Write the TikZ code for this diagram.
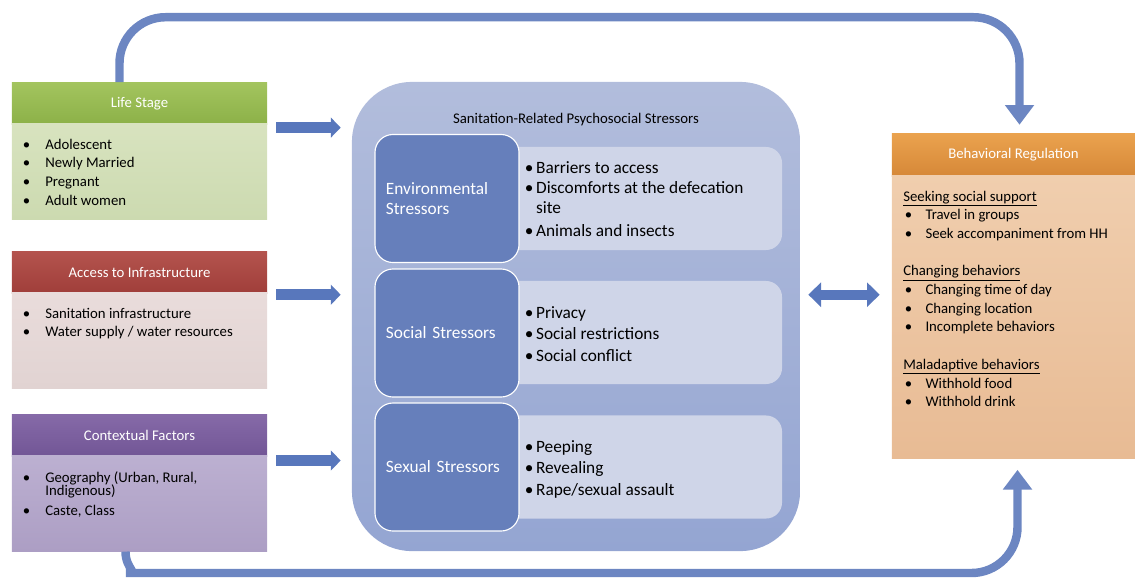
\documentclass[tikz,border=0pt]{standalone}
\usepackage{fontspec}
\setmainfont{Carlito}
\usetikzlibrary{arrows.meta}

\begin{document}
\begin{tikzpicture}[x=0.025cm, y=-0.025cm,
		hdbox/.style={minimum width=6.375cm, minimum height=1.05cm, inner sep=0, text=white, font=\fontsize{10.5}{12}\selectfont},
		bdbox/.style={minimum width=6.375cm, minimum height=2.4cm, inner sep=0, anchor=north},
		itemlist/.style={anchor=base west, inner sep=0, font=\fontsize{10.5}{13.3}\selectfont},
		darkbox/.style={rounded corners=0.45cm, fill=sdark, draw=white, line width=0.8pt, minimum width=3.6cm, minimum height=3.2cm, inner xsep=0.275cm, text width=3.05cm, align=left, text=white, font=\fontsize{12.3}{14}\selectfont},
		lightbox/.style={rounded corners=0.4cm, fill=slight, minimum width=7.05cm, minimum height=2.575cm},
		stresslist/.style={anchor=west, inner sep=0, font=\fontsize{12.3}{14}\selectfont},
		inarrow/.style={draw=arrowblue, line width=7.8pt, shorten <=0.225cm, shorten >=0.275cm, -{Triangle[width=14pt,length=7pt]}},
		backarrow/.style={draw=arcblue, line width=6pt, rounded corners=1.15cm, -{Triangle[width=20pt,length=14pt]}}
	]
		\definecolor{lifetop}{RGB}{163,196,94}
		\definecolor{lifebot}{RGB}{140,177,72}
		\definecolor{acctop}{RGB}{180,84,78}
		\definecolor{accbot}{RGB}{160,62,58}
		\definecolor{ctxtop}{RGB}{134,106,168}
		\definecolor{ctxbot}{RGB}{114,86,150}
		\definecolor{behtop}{RGB}{234,162,78}
		\definecolor{behbot}{RGB}{214,136,56}
		\definecolor{sdark}{RGB}{102,127,187}
		\definecolor{slight}{RGB}{207,213,232}
		\definecolor{arrowblue}{RGB}{88,119,188}
		\definecolor{arcblue}{RGB}{108,134,194}
		\useasboundingbox (0,0) rectangle (1135,579);

		% left column
		\node[hdbox, top color=lifetop, bottom color=lifebot] (lifehead) at (139.5,103.5) {Life Stage};
		\node[bdbox, top color={rgb,255:red,216;green,227;blue,191}, bottom color={rgb,255:red,204;green,218;blue,176}] (lifebody) at (139.5,123.5) {};
		\node[itemlist] (lifelist) at (22.5,149) {\begin{tabular}[t]{@{}p{16pt}@{}l@{}}
			\textbullet & Adolescent\\
			\textbullet & Newly Married\\
			\textbullet & Pregnant\\
			\textbullet & Adult women
		\end{tabular}};

		\node[hdbox, top color=acctop, bottom color=accbot] (acchead) at (139.5,272) {Access to Infrastructure};
		\node[bdbox, top color={rgb,255:red,233;green,220;blue,219}, bottom color={rgb,255:red,225;green,211;blue,210}] (accbody) at (139.5,292) {};
		\node[itemlist] (acclist) at (22.5,318) {\begin{tabular}[t]{@{}p{16pt}@{}l@{}}
			\textbullet & Sanitation infrastructure\\
			\textbullet & Water supply / water resources
		\end{tabular}};

		\node[hdbox, top color=ctxtop, bottom color=ctxbot] (ctxhead) at (139.5,435) {Contextual Factors};
		\node[bdbox, top color={rgb,255:red,188;green,176;blue,209}, bottom color={rgb,255:red,172;green,158;blue,196}] (ctxbody) at (139.5,455) {};
		\node[itemlist] (ctxlist) at (22.5,482) {\begin{tabular}[t]{@{}p{16pt}@{}l@{}}
			\textbullet & Geography (Urban, Rural,\\[-4pt]
			& Indigenous)\\[1pt]
			\textbullet & Caste, Class
		\end{tabular}};

		% stressors
		\node[rounded corners=1.5cm, top color={rgb,255:red,178;green,189;blue,220}, bottom color={rgb,255:red,148;green,165;blue,210}, minimum width=11.2cm, minimum height=11.725cm] (stress) at (576,316.5) {};
		\node[font=\fontsize{10.5}{12}\selectfont] (stitle) at (576,119.5) {Sanitation-Related Psychosocial Stressors};

		\node[lightbox] (envlight) at (641,198.5) {};
		\node[darkbox] (envdark) at (447,198.5) {Environmental\\Stressors};
		\node[stresslist] (envlist) at ([xshift=0.125cm, yshift=-0.07cm]envdark.east) {\begin{tabular}{@{}p{8pt}@{}l@{}}
			\textbullet & Barriers to access\\[0pt]
			\textbullet & Discomforts at the defecation\\
			& site\\[2.5pt]
			\textbullet & Animals and insects
		\end{tabular}};

		\node[lightbox] (soclight) at (641,332.5) {};
		\node[darkbox] (socdark) at (447,333) {Social Stressors};
		\node[stresslist] (soclist) at ([xshift=0.125cm, yshift=-0.07cm]socdark.east) {\begin{tabular}{@{}p{8pt}@{}l@{}}
			\textbullet & Privacy\\[1.3pt]
			\textbullet & Social restrictions\\[1.3pt]
			\textbullet & Social conflict
		\end{tabular}};

		\node[lightbox] (sexlight) at (641,467) {};
		\node[darkbox] (sexdark) at (447,467) {Sexual Stressors};
		\node[stresslist] (sexlist) at ([xshift=0.125cm, yshift=-0.07cm]sexdark.east) {\begin{tabular}{@{}p{8pt}@{}l@{}}
			\textbullet & Peeping\\[1.3pt]
			\textbullet & Revealing\\[1.3pt]
			\textbullet & Rape/sexual assault
		\end{tabular}};

		% behavioral regulation
		\node[hdbox, minimum width=6.075cm, top color=behtop, bottom color=behbot] (behhead) at (1013.5,155) {Behavioral Regulation};
		\node[bdbox, minimum width=6.075cm, minimum height=7.075cm, top color={rgb,255:red,240;green,206;blue,174}, bottom color={rgb,255:red,232;green,187;blue,148}] (behbody) at (1013.5,175) {};
		\node[itemlist] (behlist) at (903,201) {\begin{tabular}[t]{@{}p{15.8pt}@{}l@{}}
			\multicolumn{2}{@{}l@{}}{\underline{Seeking social support}}\\
			\hspace{1.2pt}\textbullet & Travel in groups\\
			\hspace{1.2pt}\textbullet & Seek accompaniment from HH\\
			& \\
			\multicolumn{2}{@{}l@{}}{\underline{Changing behaviors}}\\
			\hspace{1.2pt}\textbullet & Changing time of day\\
			\hspace{1.2pt}\textbullet & Changing location\\
			\hspace{1.2pt}\textbullet & Incomplete behaviors\\
			& \\
			\multicolumn{2}{@{}l@{}}{\underline{Maladaptive behaviors}}\\
			\hspace{1.2pt}\textbullet & Withhold food\\
			\hspace{1.2pt}\textbullet & Withhold drink
		\end{tabular}};

		% arrows
		\draw[inarrow] ([yshift=-2pt]lifehead.south east) -- ([yshift=-2pt]lifehead.south -| stress.west);
		\draw[inarrow] ([yshift=-1pt]acchead.south east) -- ([yshift=-1pt]acchead.south -| stress.west);
		\draw[inarrow] ([yshift=-3pt]ctxhead.south east) -- ([yshift=-3pt]ctxhead.south -| stress.west);
		\draw[draw=arrowblue, line width=7pt, shorten <=0.2cm, shorten >=0.3cm, {Triangle[width=17pt,length=9pt]}-{Triangle[width=17pt,length=9pt]}] ([yshift=-1pt]acchead.south -| stress.east) -- ([yshift=-1pt]acchead.south -| behbody.west);

		\draw[backarrow, shorten >=0.225cm] ([xshift=-0.5cm]lifehead.north) -- ++(0,-65) -| ([xshift=0.15cm]behhead.north);
		\draw[backarrow, shorten >=0.28cm] ([xshift=-0.35cm]ctxbody.south) .. controls +(0,18) and +(-32,0) .. (172,573) -| ([xshift=0.1cm]behbody.south);
	\end{tikzpicture}
\end{document}
